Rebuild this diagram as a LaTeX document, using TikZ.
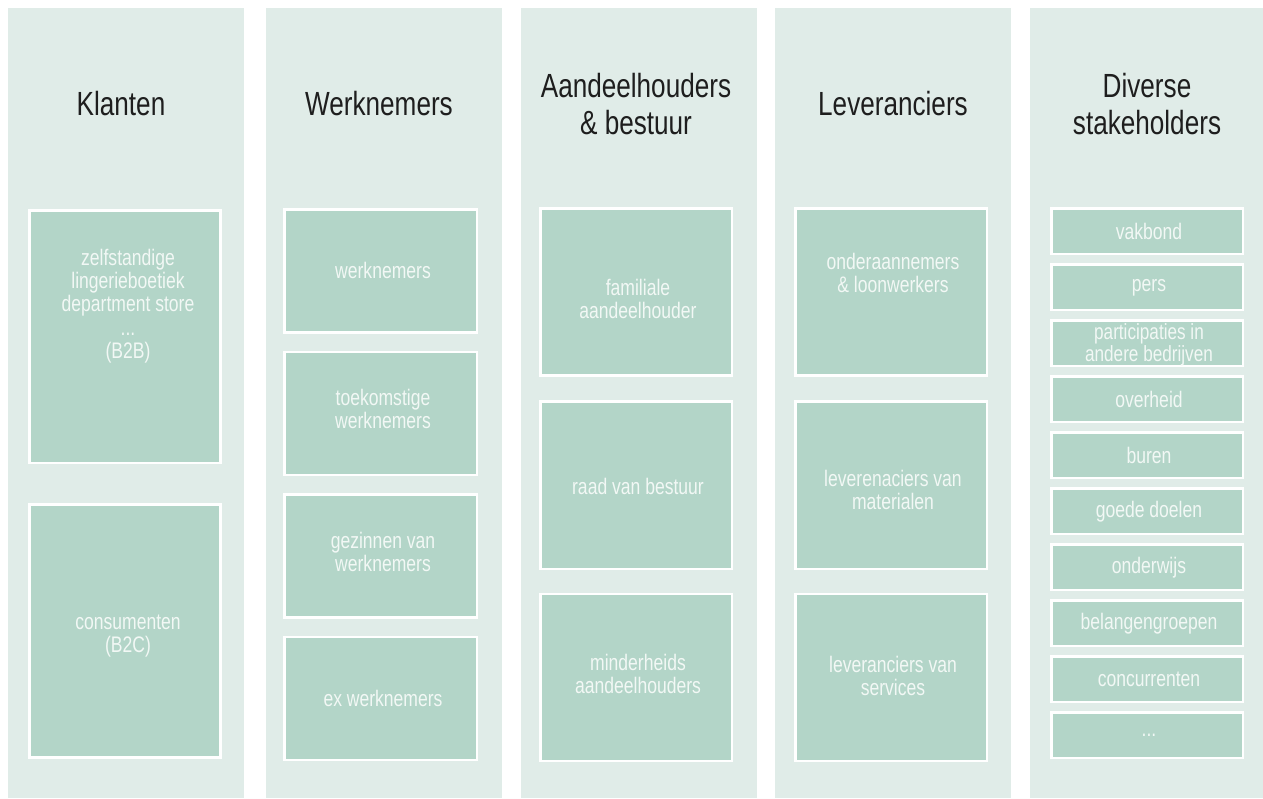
\documentclass[tikz,border=0pt]{standalone}
\usepackage{fontspec}
\setmainfont[FakeStretch=0.78]{Liberation Sans}
\definecolor{panelc}{HTML}{E0ECE8}
\definecolor{boxc}{HTML}{B3D5C8}
\definecolor{boxtext}{HTML}{F2F8F5}
\definecolor{titlec}{HTML}{1E1E1E}
\newcommand\mybx[5]{\node[boxst, minimum width={#4-#2-2.5}, minimum height={#5-#3-2.5}] (#1) at ({(#2+#4)/2},{(#3+#5)/2}) {};}
\tikzset{
  panelst/.style={fill=panelc, draw=none},
  boxst/.style={fill=boxc, draw=white, line width=2.5pt, inner sep=0pt, outer sep=0pt},
  titlest/.style={text=titlec, font=\fontsize{33.5}{37}\selectfont, align=center, inner sep=0pt},
  btext/.style={text=boxtext, font=\fontsize{22.5}{23.3}\selectfont, align=center, inner sep=0pt},
  btight/.style={btext, font=\fontsize{22}{20.4}\selectfont},
}
\begin{document}
\begin{tikzpicture}[x=1pt,y=-1pt]
\useasboundingbox (0,0) rectangle (1263,798);
% panels
\path[panelst] (8,8) rectangle (244,798);
\path[panelst] (266,8) rectangle (502,798);
\path[panelst] (521,8) rectangle (757,798);
\path[panelst] (775,8) rectangle (1011,798);
\path[panelst] (1030,8) rectangle (1266,798);
% titles
\node[titlest] (tk) at (121,104) {Klanten};
\node[titlest] (tw) at (379,104) {Werknemers};
\node[titlest] (ta) at (636,104.5) {Aandeelhouders\\\& bestuur};
\node[titlest] (tl) at (893,104) {Leveranciers};
\node[titlest] (td) at (1147,104.5) {Diverse\\stakeholders};
% Klanten
\mybx{k1}{28}{209}{221.7}{464}
\mybx{k2}{28}{503}{221.7}{758.5}
\node[btext] (k1t) at (128,306) {zelfstandige\\lingerieboetiek\\department store\\...\\(B2B)};
\node[btext] (k2t) at (128,636) {consumenten\\(B2C)};
% Werknemers
\mybx{w1}{283}{208}{478}{333.5}
\mybx{w2}{283}{350.6}{478}{476.1}
\mybx{w3}{283}{493.2}{478}{618.7}
\mybx{w4}{283}{635.8}{478}{761.3}
\node[btext] (w1t) at (383,270) {werknemers};
\node[btext] (w2t) at (383,409) {toekomstige\\werknemers};
\node[btext] (w3t) at (383,552) {gezinnen van\\werknemers};
\node[btext] (w4t) at (383,698) {ex werknemers};
% Aandeelhouders
\mybx{a1}{539.3}{207.3}{733.3}{376.7}
\mybx{a2}{539.3}{400}{733.3}{570}
\mybx{a3}{539.3}{592.7}{733.3}{762}
\node[btext] (a1t) at (638,299) {familiale\\aandeelhouder};
\node[btext] (a2t) at (638,486.5) {raad van bestuur};
\node[btext] (a3t) at (638,674) {minderheids\\aandeelhouders};
% Leveranciers
\mybx{l1}{794.3}{207.3}{988.3}{376.7}
\mybx{l2}{794.3}{400}{988.3}{570}
\mybx{l3}{794.3}{592.7}{988.3}{762}
\node[btext] (l1t) at (893,273) {onderaannemers\\\& loonwerkers};
\node[btext] (l2t) at (893,490) {leverenaciers van\\materialen};
\node[btext] (l3t) at (893,676) {leveranciers van\\services};
% Diverse
\foreach \i/\txt in {0/vakbond,1/pers,3/overheid,4/buren,5/goede doelen,6/onderwijs,7/belangengroepen,8/concurrenten}{
  \pgfmathsetmacro\ytop{207.3+56*\i}
  \pgfmathsetmacro\ybot{255.3+56*\i}
  \mybx{d\i}{1050}{\ytop}{1244}{\ybot}
  \node[btext] (d\i t) at ([xshift=2pt]d\i.center) {\txt};
}
\mybx{d2}{1050}{319.3}{1244}{367.3}
\node[btight] (d2t) at ([xshift=2pt,yshift=-1.5pt]d2.center) {participaties in\\andere bedrijven};
\mybx{d9}{1050}{711.3}{1244}{759.3}
\node[btext] (d9t) at ([xshift=2pt]d9.center) {...};
\end{tikzpicture}
\end{document}
